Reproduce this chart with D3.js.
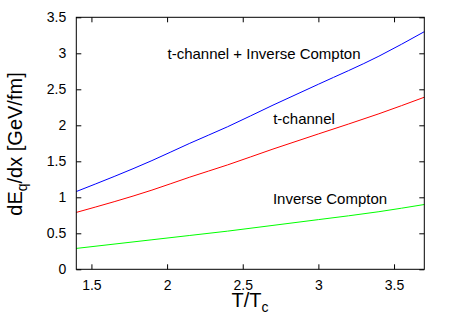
<!DOCTYPE html>
<html>
<head>
<meta charset="utf-8">
<script src="https://cdn.jsdelivr.net/npm/d3@7"></script>
<style>
  body { margin: 0; background: #fff; }
  svg text { font-family: "Liberation Sans", Arial, sans-serif; fill: #000; }
</style>
</head>
<body>
<div id="chart"></div>
<script>
// values
const temps = [1.4, 1.9, 2.15, 2.4, 2.7, 3.0, 3.4, 3.7];
const tChannel = [0.79, 1.10, 1.28, 1.45, 1.67, 1.88, 2.16, 2.39];
const inverseCompton = [0.29, 0.41, 0.47, 0.53, 0.61, 0.69, 0.80, 0.90];
const combined = [1.08, 1.51, 1.75, 1.98, 2.28, 2.57, 2.96, 3.30];
const xTicks = [1.5, 2, 2.5, 3, 3.5];
const yTicks = [0, 0.5, 1, 1.5, 2, 2.5, 3, 3.5];

const width = 450, height = 321;
const margin = {top: 17.3, right: 25.7, bottom: 51.7, left: 76.3};

const svg = d3.select("#chart")
    .append("svg")
    .attr("width", width)
    .attr("height", height);

const x = d3.scaleLinear()
    .domain([1.4, 3.7])
    .range([margin.left, width - margin.right]);
const y = d3.scaleLinear()
    .domain([0, 3.5])
    .range([height - margin.bottom, margin.top]);

// curves
const series = [
    {values: combined, color: "#0000ff"},
    {values: tChannel, color: "#ff0000"},
    {values: inverseCompton, color: "#00ff00"}
];
const line = d3.line()
    .x(d => x(d[0]))
    .y(d => y(d[1]))
    .curve(d3.curveMonotoneX);

series.forEach(s => {
    svg.append("path")
        .datum(temps.map((t, i) => [t, s.values[i]]))
        .attr("d", line)
        .attr("fill", "none")
        .attr("stroke", s.color)
        .attr("stroke-width", 1);
});

// axes, ticks pointing inward on all sides
function styleAxis(g) {
    g.select(".domain").remove();
    g.selectAll(".tick line").attr("stroke", "#000");
    g.selectAll(".tick text").attr("font-size", 14).attr("fill", "#000");
}
svg.append("g")
    .attr("transform", `translate(0,${y(0)})`)
    .call(d3.axisBottom(x).tickValues(xTicks).tickSizeInner(-5).tickPadding(10.5).tickFormat(d3.format("")))
    .call(styleAxis);
svg.append("g")
    .attr("transform", `translate(0,${y(3.5)})`)
    .call(d3.axisTop(x).tickValues(xTicks).tickSizeInner(-5).tickFormat(""))
    .call(styleAxis);
svg.append("g")
    .attr("transform", `translate(${x(1.4)},0)`)
    .call(d3.axisLeft(y).tickValues(yTicks).tickSizeInner(-5).tickPadding(10).tickFormat(d3.format("")))
    .call(styleAxis);
svg.append("g")
    .attr("transform", `translate(${x(3.7)},0)`)
    .call(d3.axisRight(y).tickValues(yTicks).tickSizeInner(-5).tickFormat(""))
    .call(styleAxis);

svg.append("rect")
    .attr("x", x(1.4))
    .attr("y", y(3.5))
    .attr("width", x(3.7) - x(1.4))
    .attr("height", y(0) - y(3.5))
    .attr("fill", "none")
    .attr("stroke", "#000")
    .attr("stroke-width", 1);

// curve labels
svg.append("text").attr("x", 264).attr("y", 58.5).attr("text-anchor", "middle")
    .attr("font-size", 15).text("t-channel + Inverse Compton");
svg.append("text").attr("x", 304).attr("y", 123.5).attr("text-anchor", "middle")
    .attr("font-size", 15).text("t-channel");
svg.append("text").attr("x", 330).attr("y", 203.5).attr("text-anchor", "middle")
    .attr("font-size", 15).text("Inverse Compton");

// axis titles
const xt = svg.append("text").attr("x", 250).attr("y", 307)
    .attr("text-anchor", "middle").attr("font-size", 20);
xt.append("tspan").text("T/T");
xt.append("tspan").attr("dy", 5).attr("font-size", 14).text("c");

const yt = svg.append("text")
    .attr("transform", "translate(22,144) rotate(-90)")
    .attr("text-anchor", "middle").attr("font-size", 20);
yt.append("tspan").text("dE");
yt.append("tspan").attr("dy", 5).attr("font-size", 14).text("q");
yt.append("tspan").attr("dy", -5).text("/dx [GeV/fm]");
</script>
</body>
</html>
